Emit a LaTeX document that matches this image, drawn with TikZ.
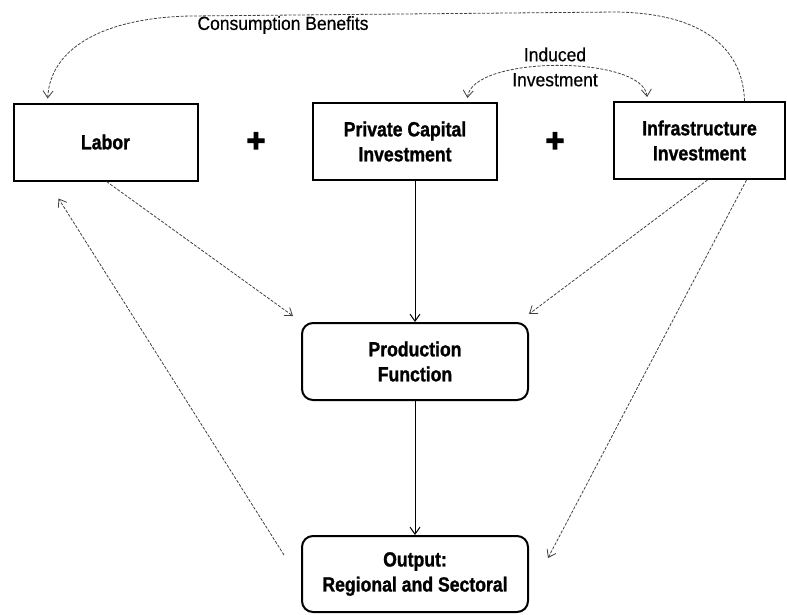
\documentclass[tikz,border=0pt]{standalone}
\usepackage{fontspec}
\setmainfont[FakeStretch=0.86]{Liberation Sans}
\newfontfamily\boxfont[FakeStretch=0.86, FakeBold=1.2]{Liberation Sans Bold}
\newfontfamily\plusfont[FakeBold=4]{Liberation Sans Bold}
\newfontfamily\labelfont[FakeStretch=0.92, FakeBold=0.4]{Liberation Sans}
\usetikzlibrary{arrows.meta, positioning, calc}

\begin{document}
\begin{tikzpicture}[
    x=1pt, y=-1pt,
    box/.style={draw=black, line width=2pt, minimum width=184pt, minimum height=77pt, align=center, inner sep=0pt, font=\boxfont\fontsize{20.5}{25}\selectfont},
    round box/.style={box, rounded corners=11pt, minimum width=226pt},
    plus sign/.style={inner sep=0pt, font=\plusfont\fontsize{32}{32}\selectfont},
    note/.style={align=center, inner sep=0pt, font=\labelfont\fontsize{19}{25}\selectfont},
    link/.style={line width=1pt, -{Straight Barb[length=7pt,width=10pt]}},
    dashlink/.style={line width=0.8pt, draw=black!75, dash pattern=on 3pt off 1.5pt, -{Straight Barb[length=7pt,width=10pt]}}
]
\useasboundingbox (0,0) rectangle (787,614);

% --- Inputs ---
\node[box] (labor) at (105.5,142) {Labor};
\node[plus sign] (plusA) at (256,142) {+};
\node[box] (private) at (405,141.5) {Private Capital\\Investment};
\node[plus sign] (plusB) at (555,142) {+};
\node[box, minimum width=171pt] (infra) at (699.5,140.5) {Infrastructure\\Investment};

% --- Production and output ---
\node[round box] (prod) at (415,361.5) {Production\\Function};
\node[round box, minimum height=76pt] (output) at (415,574) {Output:\\Regional and Sectoral};

% --- Labels on the feedback loops ---
\node[note] (benefits) at (283,25) {Consumption Benefits};
\node[note] (induced) at (555,67) {Induced\\Investment};

% --- Main flow ---
\draw[link] (prod.north |- private.south) -- (prod.north);
\draw[link] (prod.south) -- (output.north);

% --- Dashed links ---
\draw[dashlink] ([xshift=1pt]labor.south) -- ([shift={(-8pt,6pt)}]prod.north west);
\draw[dashlink] ([xshift=8pt]infra.south) -- ([yshift=8pt]prod.north east);
\draw[dashlink] ([xshift=47pt]infra.south) -- ([shift={(19pt,16pt)}]output.east);
\draw[dashlink] ([shift={(-17pt,19pt)}]output.west) -- ([shift={(-47pt,-17pt)}]labor.south);

% --- Feedback arcs ---
\draw[dashlink, shorten >=4pt] ([xshift=45pt]infra.north) .. controls (743,50) and (705,13) .. (615,12)
    -- (190,16) .. controls (100,18) and (50,50) .. ([xshift=-58pt]labor.north);
\draw[dashlink, {Straight Barb[length=7pt,width=10pt]}-{Straight Barb[length=7pt,width=10pt]}, shorten >=4pt, shorten <=4pt]
    ([xshift=62pt]private.north) .. controls (472,55) and (643,55) .. ([xshift=-52pt]infra.north);

\end{tikzpicture}
\end{document}
